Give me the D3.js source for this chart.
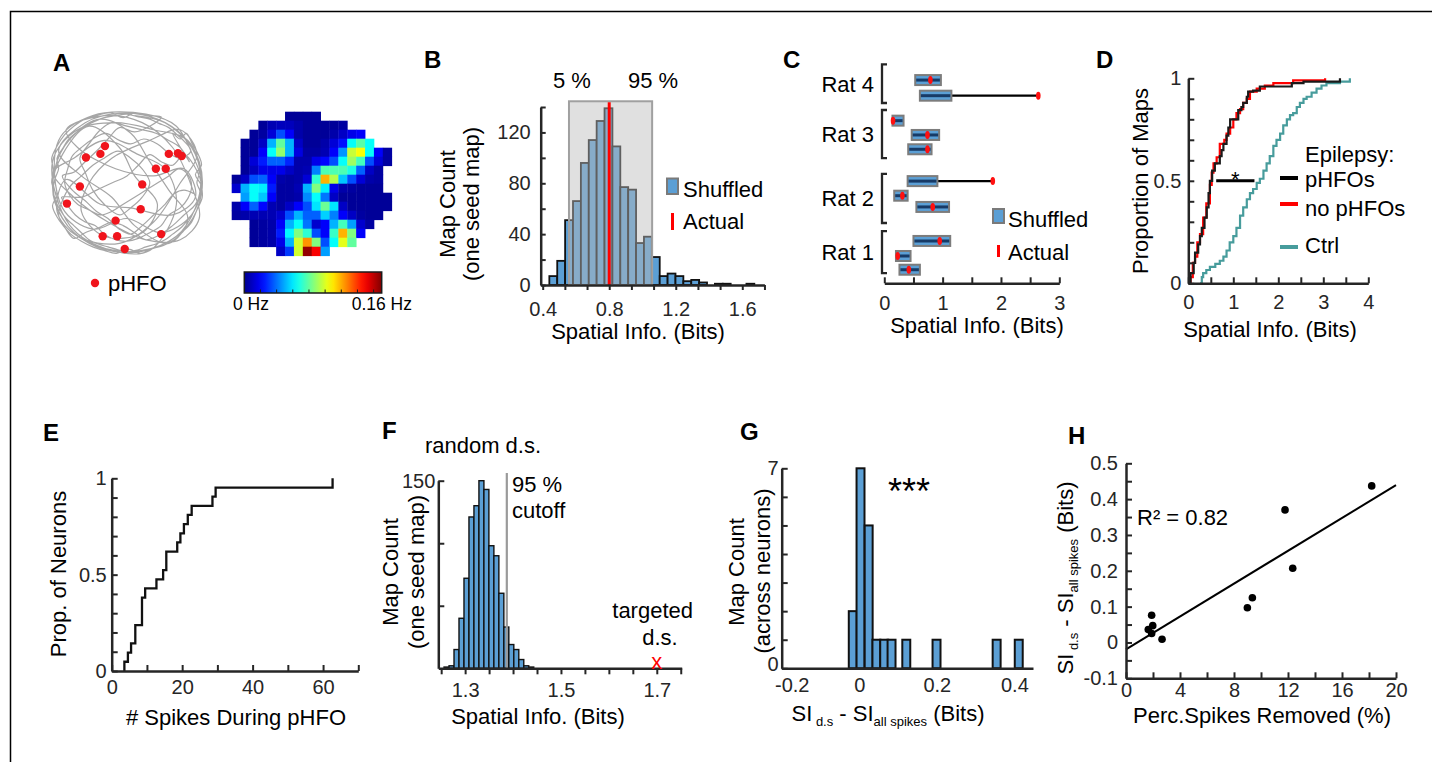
<!DOCTYPE html>
<html lang="en">
<head>
<meta charset="UTF-8">
<title>pHFO spike removal and spatial information</title>
<script src="https://d3js.org/d3.v7.min.js"></script>
<style>
  body { margin: 0; background: #fff; }
  svg { display: block; font-family: "Liberation Sans", Arial, sans-serif; }
</style>
</head>
<body>
<svg id="fig" width="1432" height="762"></svg>
<script>
// ---------- A: trajectory (unit circle coords), pHFO locations, rate map ----------
const trackPts = [[0.1,-0.95],[0.5,-0.85],[0.85,-0.5],[0.97,-0.1],[0.9,0.35],[0.65,0.75],[0.2,0.95],[-0.3,0.92],[-0.7,0.7],[-0.95,0.25],[-0.95,-0.2],[-0.75,-0.62],[-0.35,-0.9],[0.05,-0.7],[0.3,-0.3],[0.55,0.1],[0.8,0.5],[0.55,0.85],[0.1,0.6],[-0.2,0.2],[-0.6,-0.1],[-0.9,-0.45],[-0.55,-0.85],[-0.1,-0.98],[0.4,-0.9],[0.75,-0.65],[0.95,-0.3],[0.98,0.15],[0.8,0.6],[0.4,0.9],[-0.05,0.98],[-0.5,0.85],[-0.85,0.5],[-0.98,0.05],[-0.85,-0.4],[-0.5,-0.8],[-0.1,-0.5],[0.1,-0.1],[0.4,0.3],[0.2,0.7],[-0.3,0.75],[-0.6,0.4],[-0.5,0],[-0.2,-0.35],[0.3,-0.6],[0.7,-0.75],[0.92,-0.4],[0.7,0],[0.35,0.55],[-0.1,0.85],[-0.65,0.75],[-0.92,0.4],[-0.8,-0.05],[-0.35,0.3],[0.05,0.35],[0.6,0.45],[0.9,0.2],[0.75,-0.2],[0.35,-0.1],[-0.15,-0.2],[-0.65,-0.5],[-0.8,-0.75],[-0.3,-0.95],[0.2,-0.85],[0.6,-0.5],[0.85,0.05],[0.95,0.5],[0.7,0.8],[0.25,0.8],[-0.25,0.55],[-0.7,0.2],[-0.97,-0.15],[-0.7,-0.35],[-0.3,-0.6],[0.15,-0.4],[0.5,-0.2],[0.65,0.3],[0.3,0.95],[-0.2,0.95],[-0.75,0.6],[-0.98,-0.3],[-0.65,-0.75],[-0.15,-0.85],[0.35,-0.75],[0.8,-0.6],[0.98,-0.05],[0.85,0.45],[0.45,0.7],[0,0.5],[-0.45,0.65],[-0.85,0.35],[-0.9,-0.6],[-0.45,-0.95],[0.25,-0.97],[0.65,-0.8],
  [0.9,-0.3],[0.95,-0.15],[0.92,0.0],[0.96,0.12],[0.93,0.28],[0.88,0.4],[0.8,0.52],[0.72,0.62],[0.6,0.72],[0.5,0.8],[0.38,0.86],[0.25,0.9],[0.12,0.95],[0.0,0.97],[-0.12,0.94],[-0.25,0.9],[-0.38,0.86],[-0.5,0.8],[-0.6,0.7],[-0.7,0.6],[-0.8,0.5],[-0.88,0.38],[-0.94,0.25],[-0.97,0.1],[-0.95,-0.05],[-0.9,-0.2],[-0.92,-0.35],[-0.85,-0.48],[-0.78,-0.6],[-0.68,-0.7],[-0.55,-0.8],[-0.42,-0.87],[-0.3,-0.92],[-0.15,-0.95],[0.0,-0.97],[0.15,-0.93],[0.3,-0.9],[0.42,-0.84],[0.55,-0.78],[0.66,-0.68],[0.76,-0.58],[0.84,-0.45],[0.7,-0.35],[0.55,-0.42],[0.4,-0.55],[0.22,-0.62],[0.05,-0.55],[-0.1,-0.6],[-0.28,-0.7],[-0.45,-0.62],[-0.6,-0.5],[-0.72,-0.38],[-0.78,-0.2],[-0.82,0.0],[-0.75,0.18],[-0.65,0.3],[-0.5,0.38],[-0.35,0.45],[-0.2,0.4],[-0.05,0.3],[0.1,0.2],[0.25,0.1],[0.4,0.0],[0.55,-0.1],[0.68,-0.2],[0.8,-0.12],[0.85,0.05],[0.8,0.22],[0.7,0.35],[0.55,0.45],[0.45,0.6],[0.3,0.7],[0.15,0.78],[0.0,0.82],[-0.15,0.8],[-0.3,0.72],[-0.42,0.6],[-0.55,0.55],[-0.68,0.45],[-0.78,0.32],[-0.86,0.2],
  [-0.6,0.2],[-0.4,0.1],[-0.2,0.0],[0.0,-0.1],[0.15,-0.25],[0.3,-0.4],[0.45,-0.3],[0.6,-0.25],[0.75,-0.4],[0.88,-0.25],[0.98,0.05],[0.9,0.3],[0.75,0.45],[0.6,0.6],[0.45,0.72],[0.25,0.8],[0.1,0.7],[-0.05,0.6],[-0.2,0.55],[-0.35,0.62],[-0.55,0.7],[-0.7,0.78],[-0.82,0.62],[-0.9,0.45],[-0.85,0.25],[-0.75,0.05],[-0.6,-0.1],[-0.45,-0.25],[-0.3,-0.35],[-0.12,-0.45],[0.05,-0.35],[0.2,-0.2],[0.3,0.0],[0.2,0.2],[0.05,0.35],[-0.1,0.45],[-0.3,0.3],[-0.45,0.1],[-0.55,-0.15],[-0.62,-0.35],[-0.5,-0.55],[-0.35,-0.75],[-0.2,-0.85],[0.0,-0.8],[0.2,-0.75],[0.38,-0.7],[0.55,-0.6],[0.7,-0.5],[0.82,-0.3],
  [0.6,-0.7],[0.7,-0.62],[0.78,-0.7],[0.86,-0.55],[0.93,-0.42],[0.98,-0.25],[0.9,-0.12],[0.97,0.02],[0.99,0.2],[0.92,0.38],[0.85,0.55],[0.74,0.68],[0.62,0.8],[0.48,0.88],[0.32,0.93],[0.18,0.99],[0.02,0.93],[-0.14,0.99],[-0.3,0.95],[-0.45,0.9],[-0.6,0.82],[-0.74,0.72],[-0.84,0.6],[-0.92,0.48],[-0.98,0.32],[-0.93,0.18],[-0.99,0.0],[-0.97,-0.18],[-0.99,-0.35],[-0.92,-0.52],[-0.82,-0.68],[-0.7,-0.8],[-0.56,-0.9],[-0.4,-0.95],[-0.22,-0.99],[-0.05,-0.92],[0.1,-0.99],[0.28,-0.95],[0.45,-0.93],[0.3,-0.8],[0.1,-0.72],[-0.1,-0.78],[-0.25,-0.62],[-0.4,-0.45],[-0.55,-0.3],[-0.7,-0.15],[-0.85,-0.1],[-0.72,0.1],[-0.55,0.25],[-0.4,0.4],[-0.25,0.5],[-0.1,0.65],[0.05,0.72],[0.2,0.6],[0.35,0.45],[0.5,0.3],[0.62,0.15],[0.75,0.1],[0.88,0.15]];
const hfoPts = [[-0.54,-0.36],[-0.29,-0.52],[-0.35,-0.41],[0.55,-0.41],[0.67,-0.42],[0.72,-0.38],[0.38,-0.2],[0.51,-0.2],[0.2,0.02],[-0.62,0.05],[-0.79,0.29],[0.18,0.37],[-0.15,0.53],[-0.32,0.75],[-0.13,0.75],[0.45,0.72],[-0.03,0.93]];
const n = null;
const rateMap = [
  [n,n,n,n,n,n,.01,.01,.01,.01,n,n,n,n,n,n,n,n],
  [n,n,n,.01,.04,.05,.05,.03,.01,.01,.01,.01,.02,n,n,n,n,n],
  [n,n,.01,.02,.08,.2,.12,.03,.01,.01,.01,.03,.06,.1,.12,n,n,n],
  [n,.01,.01,.06,.3,.47,.3,.06,.01,.01,.03,.08,.14,.38,.46,.38,n,n],
  [n,.01,.01,.12,.38,.52,.3,.09,.02,.02,.04,.12,.27,.57,.62,.38,.12,.02],
  [n,.01,.08,.15,.22,.22,.16,.03,.03,.1,.13,.2,.38,.53,.44,.2,.08,.02],
  [n,.01,.05,.1,.1,.1,.06,.03,.04,.25,.45,.45,.45,.4,.22,.06,.02,n],
  [.01,.06,.2,.22,.12,.03,.02,.03,.08,.42,.7,.55,.32,.2,.08,.03,.02,n],
  [.07,.3,.38,.36,.15,.02,.02,.04,.3,.5,.36,.1,.03,.02,.01,.01,.01,n],
  [n,.28,.38,.32,.12,.02,.02,.03,.26,.38,.24,.06,.01,.01,.01,.01,.01,.01],
  [.03,.12,.22,.13,.04,.02,.06,.12,.2,.35,.48,.35,.06,.01,.01,.01,.01,.01],
  [.02,.03,.04,.04,.04,.07,.2,.3,.22,.22,.33,.25,.12,.06,.02,.01,.01,n],
  [n,n,.01,.02,.03,.12,.3,.38,.24,.07,.12,.3,.44,.28,.07,.02,n,n],
  [n,n,.01,.02,.03,.15,.37,.5,.42,.2,.12,.43,.7,.5,.12,n,n,n],
  [n,n,.01,.02,.03,.1,.3,.58,.73,.5,.2,.38,.6,.47,n,n,n,n],
  [n,n,n,n,n,.06,.18,.58,.98,.88,.28,n,n,n,n,n,n,n]
];
const cbarTicks = [0.02,0.04,0.06,0.08,0.10,0.12,0.14,0.16];

// ---------- B: shuffled histogram ----------
const bStart = 0.44, bWidth = 0.0474;
const bCounts = [7,19,51,66,96,114,129,139,109,77,75,33,38,22,7,9,7,3,4,2,0,1,1,0,0,1];
const bActual = 0.8, bLow5 = 0.558, bHigh95 = 1.058, bBoxTop = 144.5;

// ---------- C: shuffled ranges per map ----------
const cRows = [13.92,12.85,11.14,10.16,9.18,7.0,6.0,5.23,2.9,1.87,0.93];
const cLo = [0.53,0.61,0.14,0.47,0.41,0.40,0.17,0.55,0.50,0.20,0.26];
const cHi = [0.97,1.15,0.33,0.94,0.81,0.91,0.40,1.11,1.13,0.45,0.61];
const cActual = [0.79,2.64,0.15,0.74,0.74,1.86,0.31,0.83,0.95,0.23,0.42];
const ratNames = ["Rat 4","Rat 3","Rat 2","Rat 1"];
const ratTop = [15.0,11.87,7.49,3.58];
const ratBottom = [12.35,8.58,4.13,0.7];

// ---------- D: cumulative spatial info ----------
const dPhfo = [[0,0],[0.05,0.05],[0.12,0.1],[0.15,0.15],[0.22,0.19],[0.26,0.23],[0.3,0.27],[0.36,0.32],[0.41,0.37],[0.45,0.44],[0.48,0.5],[0.53,0.55],[0.59,0.585],[0.7,0.62],[0.74,0.65],[0.78,0.68],[0.85,0.72],[0.89,0.76],[0.93,0.8],[1.07,0.8],[1.11,0.845],[1.18,0.86],[1.22,0.88],[1.3,0.91],[1.33,0.935],[1.44,0.94],[1.59,0.96],[2.19,0.96],[2.3,0.976],[2.56,0.984],[3.37,0.99],[3.37,1.0]];
const dNoPhfo = [[0.02,0],[0.05,0.03],[0.1,0.1],[0.15,0.13],[0.2,0.2],[0.26,0.24],[0.33,0.32],[0.4,0.39],[0.48,0.48],[0.52,0.54],[0.56,0.585],[0.63,0.615],[0.7,0.68],[0.8,0.7],[0.85,0.73],[0.93,0.76],[1.0,0.8],[1.07,0.83],[1.15,0.85],[1.22,0.88],[1.3,0.9],[1.37,0.935],[1.52,0.95],[1.7,0.965],[1.89,0.976],[2.33,0.99],[3.04,1.0]];
const dCtrl = [[0.26,0],[0.3,0.03],[0.33,0.05],[0.4,0.065],[0.48,0.08],[0.6,0.095],[0.7,0.11],[0.78,0.13],[0.85,0.16],[0.92,0.2],[1.0,0.23],[1.07,0.27],[1.15,0.33],[1.22,0.37],[1.3,0.41],[1.37,0.44],[1.44,0.46],[1.52,0.49],[1.59,0.51],[1.67,0.55],[1.74,0.585],[1.81,0.62],[1.89,0.67],[1.96,0.7],[2.04,0.73],[2.11,0.77],[2.19,0.8],[2.26,0.82],[2.33,0.83],[2.41,0.86],[2.48,0.88],[2.56,0.9],[2.63,0.91],[2.74,0.93],[2.85,0.95],[2.96,0.965],[3.07,0.976],[3.37,0.984],[3.59,1.0]];
const dSigFrom = 0.62, dSigTo = 1.47, dSigAt = 0.5;

// ---------- E: spikes during pHFO (cumulative) ----------
const eSpikes = [3.6,3.6,4.6,5.5,6.7,8.6,9.5,12.7,14.6,15.5,18.6,19.5,20.5,21.6,22.7,28.6,29.5,62.7];
const eProp = [0,0.048,0.095,0.143,0.238,0.381,0.429,0.476,0.524,0.619,0.667,0.714,0.762,0.81,0.857,0.905,0.952,1.0];

// ---------- F: random down-sampling ----------
const fStart = 1.256, fWidth = 0.0104;
const fCounts = [1,2,15,40,72,121,130,150,143,98,90,60,33,19,15,7,2,1];
const fCutoff = 1.387, fTargeted = 1.7;

// ---------- G: SI difference histogram ----------
const gLeft = [-0.027,-0.007,0.014,0.034,0.054,0.073,0.111,0.189,0.344,0.401];
const gCounts = [2,7,5,1,1,1,1,1,1,1];
const gWidth = 0.0205;

// ---------- H: SI gain vs spikes removed ----------
const hRemoved = [1.9,1.65,1.98,1.9,2.67,8.99,9.36,11.78,12.35,18.2];
const hGain = [0.076,0.036,0.047,0.025,0.009,0.097,0.125,0.37,0.207,0.437];
const hFit = { intercept: -0.019, slope: 0.0229 };

const INK = "#262626";
const BLUE = "#5b9fd5";
const svg = d3.select("#fig");

svg.append("path").attr("d", "M10.5,762 V11.5 H1432")
  .attr("fill", "none").attr("stroke", "#000").attr("stroke-width", 1.5);

function labelled(vals) {
  return d => vals.some(v => Math.abs(v - d) < 1e-6) ? String(+d.toFixed(2)) : "";
}
function drawAxis(gen, tx, ty) {
  const g = svg.append("g").attr("transform", `translate(${tx},${ty})`).call(gen);
  g.attr("font-family", null).attr("font-size", 20);
  g.select(".domain").attr("stroke", INK).attr("stroke-width", 2.5);
  g.selectAll(".tick line").attr("stroke", INK).attr("stroke-width", 2);
  g.selectAll(".tick text").attr("fill", INK);
  return g;
}
function text(x, y, s, size, anchor) {
  return svg.append("text").attr("x", x).attr("y", y).attr("font-size", size || 22)
    .attr("text-anchor", anchor || "start").attr("fill", "#000").text(s);
}
function vtext(x, y, s, size) {
  return svg.append("text").attr("transform", `translate(${x},${y}) rotate(-90)`)
    .attr("font-size", size || 22).attr("text-anchor", "middle").attr("fill", "#000").text(s);
}

// panel letters
[["A",53,71],["B",424,68],["C",783,68],["D",1096,68],["E",43,441],["F",382,439],["G",740,440],["H",1068,444]]
  .forEach(d => text(d[1], d[2], d[0], 24).attr("font-weight", "bold"));

// ================= A =================
const trX = d3.scaleLinear().domain([-1, 1]).range([51, 203]);
const trY = d3.scaleLinear().domain([-1, 1]).range([112, 254]);
svg.append("path").datum(trackPts)
  .attr("d", d3.line().x(d => trX(d[0])).y(d => trY(d[1])).curve(d3.curveCatmullRom.alpha(0.5)))
  .attr("fill", "none").attr("stroke", "#a6a6a6").attr("stroke-width", 1.2);
svg.append("g").selectAll("circle").data(hfoPts).join("circle")
  .attr("cx", d => trX(d[0])).attr("cy", d => trY(d[1])).attr("r", 4.2).attr("fill", "#f0141c");
svg.append("circle").attr("cx", 95).attr("cy", 283).attr("r", 4.2).attr("fill", "#f0141c");
text(108, 291, "pHFO", 22);

const jet = d3.scaleLinear()
  .domain([0, 0.125, 0.375, 0.625, 0.875, 1])
  .range(["#00008f", "#0000ff", "#00ffff", "#ffff00", "#ff0000", "#800000"]);
const hmX = d3.scaleBand().domain(d3.range(18)).range([231.7, 391.7]);
const hmY = d3.scaleBand().domain(d3.range(16)).range([111.7, 255.7]);
const cells = [];
rateMap.forEach((row, r) => row.forEach((v, c) => { if (v !== null) cells.push({ r, c, v }); }));
svg.append("g").selectAll("rect").data(cells).join("rect")
  .attr("x", d => hmX(d.c)).attr("y", d => hmY(d.r))
  .attr("width", hmX.bandwidth() + 0.4).attr("height", hmY.bandwidth() + 0.4)
  .attr("fill", d => jet(d.v));

// colorbar
const cbX = d3.scaleLinear().domain([0, 0.17]).range([244.3, 381.7]);
const grad = svg.append("defs").append("linearGradient").attr("id", "jetgrad");
d3.range(0, 1.0001, 0.05).forEach(t => grad.append("stop").attr("offset", `${t * 100}%`).attr("stop-color", jet(t)));
svg.append("rect").attr("x", 244.3).attr("y", 272).attr("width", 137.4).attr("height", 21)
  .attr("fill", "url(#jetgrad)").attr("stroke", "#1a1a1a").attr("stroke-width", 1.5);
svg.append("g").selectAll("line").data(cbarTicks).join("line")
  .attr("x1", d => cbX(d)).attr("x2", d => cbX(d)).attr("y1", 293).attr("y2", 289.5)
  .attr("stroke", "#1a1a1a").attr("stroke-width", 1);
text(233, 310, "0 Hz", 17.5);
text(412, 310, "0.16 Hz", 17.5, "end");

// ================= B =================
const xB = d3.scaleLinear().domain([0.388, 1.733]).range([540.7, 764.4]);
const yB = d3.scaleLinear().domain([0, 140]).range([285, 107]);
svg.append("g").selectAll("rect").data(bCounts).join("rect")
  .attr("x", (d, i) => xB(bStart + i * bWidth)).attr("width", xB(bWidth) - xB(0))
  .attr("y", d => yB(d)).attr("height", d => yB(0) - yB(d))
  .attr("fill", BLUE).attr("stroke", "#111").attr("stroke-width", 1.8);
svg.append("rect").attr("x", xB(bLow5)).attr("y", yB(bBoxTop))
  .attr("width", xB(bHigh95) - xB(bLow5)).attr("height", yB(0) - yB(bBoxTop))
  .attr("fill", "rgb(188,188,188)").attr("fill-opacity", 0.46)
  .attr("stroke", "#a0a0a0").attr("stroke-width", 2);
svg.append("line").attr("x1", xB(bActual)).attr("x2", xB(bActual)).attr("y1", yB(bBoxTop) + 1).attr("y2", yB(0))
  .attr("stroke", "#ff0000").attr("stroke-width", 3);
drawAxis(d3.axisLeft(yB).tickValues(d3.range(0, 141, 20)).tickSizeInner(-5).tickSizeOuter(0)
  .tickPadding(10).tickFormat(labelled([0, 40, 80, 120])), 540.7, 0);
drawAxis(d3.axisBottom(xB).tickValues(d3.range(11).map(i => 0.4 + i * 0.4 / 3)).tickSizeInner(5).tickSizeOuter(0)
  .tickPadding(12).tickFormat(labelled([0.4, 0.8, 1.2, 1.6])), 0, 285);
text(553, 88, "5 %", 22);
text(628, 88, "95 %", 22);
svg.append("rect").attr("x", 667).attr("y", 178.5).attr("width", 11).attr("height", 15.5)
  .attr("fill", BLUE).attr("stroke", "#7a7a7a").attr("stroke-width", 2);
text(683, 197, "Shuffled", 22);
svg.append("line").attr("x1", 672.5).attr("x2", 672.5).attr("y1", 213).attr("y2", 230)
  .attr("stroke", "#ff0000").attr("stroke-width", 3);
text(683, 229, "Actual", 22);
vtext(455, 204, "Map Count");
vtext(479, 204, "(one seed map)");
text(638, 339, "Spatial Info. (Bits)", 22, "middle");

// ================= C =================
const xC = d3.scaleLinear().domain([0, 3]).range([884.3, 1059.3]);
const yC = d3.scaleLinear().domain([0, 14]).range([283.3, 78.9]);
const cData = cRows.map((p, i) => ({ p, lo: cLo[i], hi: cHi[i], act: cActual[i] }));
svg.append("g").selectAll("line").data(cData.filter(d => d.act > d.hi)).join("line")
  .attr("x1", d => xC(d.hi)).attr("x2", d => xC(d.act)).attr("y1", d => yC(d.p)).attr("y2", d => yC(d.p))
  .attr("stroke", "#000").attr("stroke-width", 2.3);
svg.append("g").selectAll("rect").data(cData).join("rect")
  .attr("x", d => xC(d.lo)).attr("width", d => xC(d.hi) - xC(d.lo))
  .attr("y", d => yC(d.p) - 5).attr("height", 10)
  .attr("fill", BLUE).attr("stroke", "#7c7c7c").attr("stroke-width", 2);
svg.append("g").selectAll("line").data(cData).join("line")
  .attr("x1", d => xC(d.lo) + 1).attr("x2", d => xC(d.hi) - 1).attr("y1", d => yC(d.p)).attr("y2", d => yC(d.p))
  .attr("stroke", "#173a66").attr("stroke-width", 3);
svg.append("g").selectAll("ellipse").data(cData).join("ellipse")
  .attr("cx", d => xC(d.act)).attr("cy", d => yC(d.p)).attr("rx", 2.3).attr("ry", 4)
  .attr("fill", "#ff1010");
ratNames.forEach((name, i) => {
  const t = yC(ratTop[i]), b = yC(ratBottom[i]);
  svg.append("path").attr("d", `M887,${t} H882 V${b} H887`)
    .attr("fill", "none").attr("stroke", INK).attr("stroke-width", 2.3);
  text(874, (t + b) / 2 + 8, name, 22, "end");
});
drawAxis(d3.axisBottom(xC).tickValues(d3.range(0, 3.01, 0.5)).tickSizeInner(-6).tickSizeOuter(0)
  .tickPadding(13).tickFormat(labelled([0, 1, 2, 3])), 0, 283.3);
svg.append("rect").attr("x", 993).attr("y", 209).attr("width", 11).attr("height", 14)
  .attr("fill", BLUE).attr("stroke", "#7a7a7a").attr("stroke-width", 2);
text(1008, 227, "Shuffled", 22);
svg.append("line").attr("x1", 998.5).attr("x2", 998.5).attr("y1", 245).attr("y2", 257)
  .attr("stroke", "#ff0000").attr("stroke-width", 3);
text(1008, 260, "Actual", 22);
text(977, 333, "Spatial Info. (Bits)", 22, "middle");

// ================= D =================
const xD = d3.scaleLinear().domain([0, 4]).range([1188.3, 1368.3]);
const yD = d3.scaleLinear().domain([0, 1]).range([283.3, 78.3]);
const stepLine = d3.line().x(d => xD(d[0])).y(d => yD(d[1])).curve(d3.curveStepAfter);
[[dCtrl, "#479c9c"], [dNoPhfo, "#ff0000"], [dPhfo, "#1a1a1a"]].forEach(s => {
  svg.append("path").datum(s[0]).attr("d", stepLine)
    .attr("fill", "none").attr("stroke", s[1]).attr("stroke-width", 2.2);
});
svg.append("line").attr("x1", xD(dSigFrom)).attr("x2", xD(dSigTo)).attr("y1", yD(dSigAt)).attr("y2", yD(dSigAt))
  .attr("stroke", "#000").attr("stroke-width", 3);
text((xD(dSigFrom) + xD(dSigTo)) / 2, 187, "*", 22, "middle");
drawAxis(d3.axisLeft(yD).tickValues(d3.range(0, 1.01, 0.1)).tickSizeInner(-6).tickSizeOuter(0)
  .tickPadding(7).tickFormat(labelled([0, 0.5, 1])), 1188.3, 0);
drawAxis(d3.axisBottom(xD).tickValues(d3.range(0, 4.01, 0.5)).tickSizeInner(-6).tickSizeOuter(0)
  .tickPadding(12).tickFormat(labelled([0, 1, 2, 3, 4])), 0, 283.3);
text(1305, 162, "Epilepsy:", 22);
[["pHFOs", "#000", 178, 187], ["no pHFOs", "#ff0000", 204, 216], ["Ctrl", "#479c9c", 247, 253]].forEach(l => {
  svg.append("line").attr("x1", 1280).attr("x2", 1298).attr("y1", l[2]).attr("y2", l[2])
    .attr("stroke", l[1]).attr("stroke-width", 4);
  text(1305, l[3], l[0], 22);
});
vtext(1148, 181, "Proportion of Maps");
text(1270, 337, "Spatial Info. (Bits)", 22, "middle");

// ================= E =================
const xE = d3.scaleLinear().domain([0, 70]).range([111.7, 358.3]);
const yE = d3.scaleLinear().domain([0, 1]).range([671, 478.3]);
svg.append("path").datum(eSpikes.map((s, i) => [s, eProp[i]]))
  .attr("d", d3.line().x(d => xE(d[0])).y(d => yE(d[1])).curve(d3.curveStepAfter))
  .attr("fill", "none").attr("stroke", "#111").attr("stroke-width", 2.3);
drawAxis(d3.axisLeft(yE).tickValues(d3.range(0, 1.01, 0.1)).tickSizeInner(-6).tickSizeOuter(0)
  .tickPadding(5).tickFormat(labelled([0, 0.5, 1])), 111.7, 0);
drawAxis(d3.axisBottom(xE).tickValues(d3.range(0, 71, 10)).tickSizeInner(-6).tickSizeOuter(0)
  .tickPadding(9).tickFormat(labelled([0, 20, 40, 60])), 0, 671);
vtext(66, 574, "Prop. of Neurons");
text(236, 725, "# Spikes During pHFO", 22, "middle");

// ================= F =================
const xF = d3.scaleLinear().domain([1.244, 1.752]).range([438.3, 681.7]);
const yF = d3.scaleLinear().domain([0, 150]).range([668.3, 480.7]);
svg.append("g").selectAll("rect").data(fCounts).join("rect")
  .attr("x", (d, i) => xF(fStart + i * fWidth)).attr("width", xF(fWidth) - xF(0))
  .attr("y", d => yF(d)).attr("height", d => yF(0) - yF(d))
  .attr("fill", BLUE).attr("stroke", "#111").attr("stroke-width", 1.4);
svg.append("line").attr("x1", xF(fCutoff)).attr("x2", xF(fCutoff)).attr("y1", 473).attr("y2", yF(0))
  .attr("stroke", "#9a9a9a").attr("stroke-width", 2.2);
drawAxis(d3.axisLeft(yF).tickValues([50, 100, 150]).tickSizeInner(-6).tickSizeOuter(0)
  .tickPadding(3).tickFormat(labelled([150])), 438.3, 0);
drawAxis(d3.axisBottom(xF).tickValues(d3.range(1.25, 1.751, 0.05)).tickSizeInner(6).tickSizeOuter(0)
  .tickPadding(9).tickFormat(labelled([1.3, 1.5, 1.7])), 0, 668.3);
text(483, 453, "random d.s.", 22, "middle");
text(512, 492, "95 %", 22);
text(512, 518, "cutoff", 22);
text(693, 618, "targeted", 22, "end");
text(660, 645, "d.s.", 22, "middle");
text(xF(fTargeted), 669, "x", 22, "middle").attr("fill", "#ff0000");
vtext(398, 572, "Map Count");
vtext(424, 572, "(one seed map)");
text(538, 724, "Spatial Info. (Bits)", 22, "middle");

// ================= G =================
const xG = d3.scaleLinear().domain([-0.2, 0.448]).range([781.7, 1033]);
const yG = d3.scaleLinear().domain([0, 7]).range([668.3, 468.3]);
svg.append("g").selectAll("rect").data(gCounts).join("rect")
  .attr("x", (d, i) => xG(gLeft[i])).attr("width", xG(gWidth) - xG(0))
  .attr("y", d => yG(d)).attr("height", d => yG(0) - yG(d))
  .attr("fill", BLUE).attr("stroke", "#111").attr("stroke-width", 2);
const gy = drawAxis(d3.axisLeft(yG).tickValues(d3.range(0, 8)).tickSizeInner(-6).tickSizeOuter(0)
  .tickPadding(3).tickFormat(labelled([0, 7])), 781.7, 0);
gy.selectAll(".tick text").filter(d => d === 0).attr("dy", "0.1em");
const gx = drawAxis(d3.axisBottom(xG).tickValues([-0.2, 0, 0.2, 0.4]).tickSizeInner(0).tickSizeOuter(0)
  .tickPadding(10).tickFormat(labelled([-0.2, 0, 0.2, 0.4])), 0, 668.3);
gx.selectAll(".tick text").filter(d => d < 0).attr("dx", 10);
text(909, 504, "***", 36, "middle");
vtext(744, 572, "Map Count");
vtext(770, 571, "(across neurons)");
const gl = text(888, 721, "", 22, "middle");
gl.append("tspan").text("SI");
gl.append("tspan").attr("dy", 5).attr("font-size", 13).text(" d.s");
gl.append("tspan").attr("dy", -5).text(" - SI");
gl.append("tspan").attr("dy", 5).attr("font-size", 13).text("all spikes");
gl.append("tspan").attr("dy", -5).text(" (Bits)");

// ================= H =================
const xH = d3.scaleLinear().domain([0, 20]).range([1126, 1396]);
const yH = d3.scaleLinear().domain([-0.1, 0.5]).range([678.3, 463.3]);
svg.append("line").attr("x1", xH(0)).attr("x2", xH(20))
  .attr("y1", yH(hFit.intercept)).attr("y2", yH(hFit.intercept + hFit.slope * 20))
  .attr("stroke", "#000").attr("stroke-width", 2);
svg.append("g").selectAll("circle").data(hRemoved).join("circle")
  .attr("cx", d => xH(d)).attr("cy", (d, i) => yH(hGain[i])).attr("r", 3.8).attr("fill", "#000");
drawAxis(d3.axisLeft(yH).tickValues(d3.range(-0.1, 0.501, 0.05)).tickSizeInner(-6).tickSizeOuter(0)
  .tickPadding(8).tickFormat(labelled([-0.1, 0, 0.1, 0.2, 0.3, 0.4, 0.5])), 1126, 0);
drawAxis(d3.axisBottom(xH).tickValues(d3.range(0, 21, 2)).tickSizeInner(-6).tickSizeOuter(0)
  .tickPadding(5).tickFormat(labelled([0, 4, 8, 12, 16, 20])), 0, 678.3);
text(1137, 525, "R² = 0.82", 22);
const hl = svg.append("text").attr("transform", "translate(1073,578) rotate(-90)")
  .attr("font-size", 22).attr("text-anchor", "middle").attr("fill", "#000");
hl.append("tspan").text("SI");
hl.append("tspan").attr("dy", 5).attr("font-size", 13).text(" d.s");
hl.append("tspan").attr("dy", -5).text(" - SI");
hl.append("tspan").attr("dy", 5).attr("font-size", 13).text("all spikes");
hl.append("tspan").attr("dy", -5).text(" (Bits)");
text(1262, 723, "Perc.Spikes Removed (%)", 22, "middle");
</script>
</body>
</html>
